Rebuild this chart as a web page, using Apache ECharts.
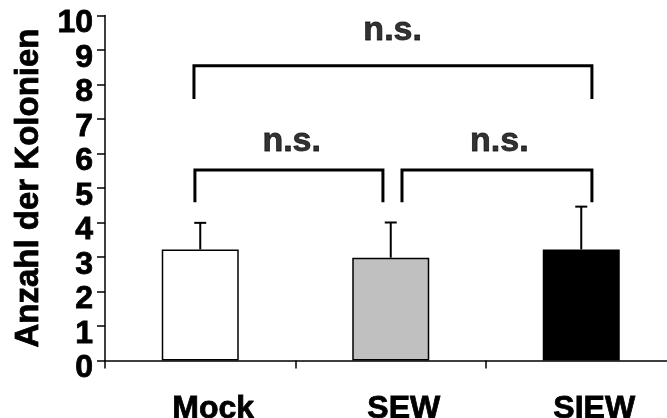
<!DOCTYPE html>
<html>
<head>
<meta charset="utf-8">
<script src="https://cdn.jsdelivr.net/npm/echarts@6/dist/echarts.min.js"></script>
<style>html,body{margin:0;padding:0;background:#fff}#c{width:667px;height:418px}</style>
</head>
<body>
<div id="c"></div>
<script>
const categories = ['Mock', 'SEW', 'SIEW'];
const means = [3.22, 2.98, 3.22];
const errors = [0.77, 1.02, 1.24];
const barColors = ['#ffffff', '#c0c0c0', '#000000'];
const yTicks = [0, 1, 2, 3, 4, 5, 6, 7, 8, 9, 10];
const yTitle = 'Anzahl der Kolonien';
// significance brackets: [xStart, xEnd, yTop, yBottom] in category units (0..3) / value units
const brackets = [
  [0.467, 2.556, 8.54, 7.62],
  [0.472, 1.459, 5.52, 4.63],
  [1.559, 2.556, 5.52, 4.63]
];
const bracketLabels = [
  [1.51, 9.57, 'n.s.'],
  [0.98, 6.35, 'n.s.'],
  [2.07, 6.35, 'n.s.']
];

const FONT = 'Liberation Sans, Arial, sans-serif';
const heavy = { textBorderColor: '#000', textBorderWidth: 0.8 };
const chart = echarts.init(document.getElementById('c'));

const bracketSeries = brackets.map(b => ({
  type: 'line',
  xAxisIndex: 1,
  yAxisIndex: 0,
  data: [[b[0], b[3]], [b[0], b[2]], [b[1], b[2]], [b[1], b[3]]],
  symbol: 'none',
  lineStyle: { color: '#000', width: 3, cap: 'square', join: 'miter' },
  silent: true,
  z: 5
}));

chart.setOption({
  animation: false,
  backgroundColor: '#fff',
  grid: { left: 105, top: 15.5, width: 571.5, height: 345, containLabel: false, outerBoundsMode: 'none' },
  xAxis: [{
    type: 'category',
    data: categories,
    boundaryGap: true,
    axisLine: { lineStyle: { color: '#000', width: 1.5 } },
    axisTick: { show: true, length: 8, lineStyle: { color: '#000', width: 1.5 } },
    axisLabel: Object.assign({ color: '#000', fontFamily: FONT, fontWeight: 'bold', fontSize: 32, margin: 33, padding: [0, 0, 0, 26] }, heavy)
  }, {
    type: 'value', min: 0, max: 3, show: false
  }],
  yAxis: {
    type: 'value', min: 0, max: 10, interval: 1,
    name: yTitle,
    nameLocation: 'middle',
    nameGap: 60,
    nameTextStyle: Object.assign({ color: '#000', fontFamily: FONT, fontWeight: 'bold', fontSize: 33 }, heavy),
    axisLine: { show: true, lineStyle: { color: '#000', width: 1.5 } },
    axisTick: { show: true, length: 8, lineStyle: { color: '#000', width: 1.5 } },
    splitLine: { show: false },
    axisLabel: Object.assign({
      color: '#000', fontFamily: FONT, fontWeight: 'bold', fontSize: 32, margin: 12,
      verticalAlign: 'top', lineHeight: 16,
      formatter: v => (yTicks.indexOf(v) >= 0 ? String(v) : '')
    }, heavy)
  },
  series: [{
    type: 'bar',
    barWidth: 77,
    data: means.map((v, i) => ({ value: v, itemStyle: { color: barColors[i] } })),
    itemStyle: { borderColor: '#000', borderWidth: 1.5 },
    z: 2
  }, {
    type: 'custom',
    data: means.map((v, i) => [i, v, v + errors[i]]),
    renderItem: (params, api) => {
      const base = api.coord([api.value(0), api.value(1)]);
      const top = api.coord([api.value(0), api.value(2)]);
      const half = 6;
      return {
        type: 'group',
        children: [
          { type: 'line', shape: { x1: base[0], y1: base[1], x2: top[0], y2: top[1] }, style: { stroke: '#000', lineWidth: 2 } },
          { type: 'line', shape: { x1: top[0] - half, y1: top[1], x2: top[0] + half, y2: top[1] }, style: { stroke: '#000', lineWidth: 2 } }
        ]
      };
    },
    z: 1
  }].concat(bracketSeries).concat([{
    type: 'scatter',
    xAxisIndex: 1,
    data: bracketLabels.map(l => [l[0], l[1], l[2]]),
    symbolSize: 0,
    label: Object.assign({
      show: true, position: 'inside', formatter: p => p.data[2],
      color: '#000', fontFamily: FONT, fontWeight: 'bold', fontSize: 34
    }, heavy),
    silent: true
  }])
});
</script>
</body>
</html>
